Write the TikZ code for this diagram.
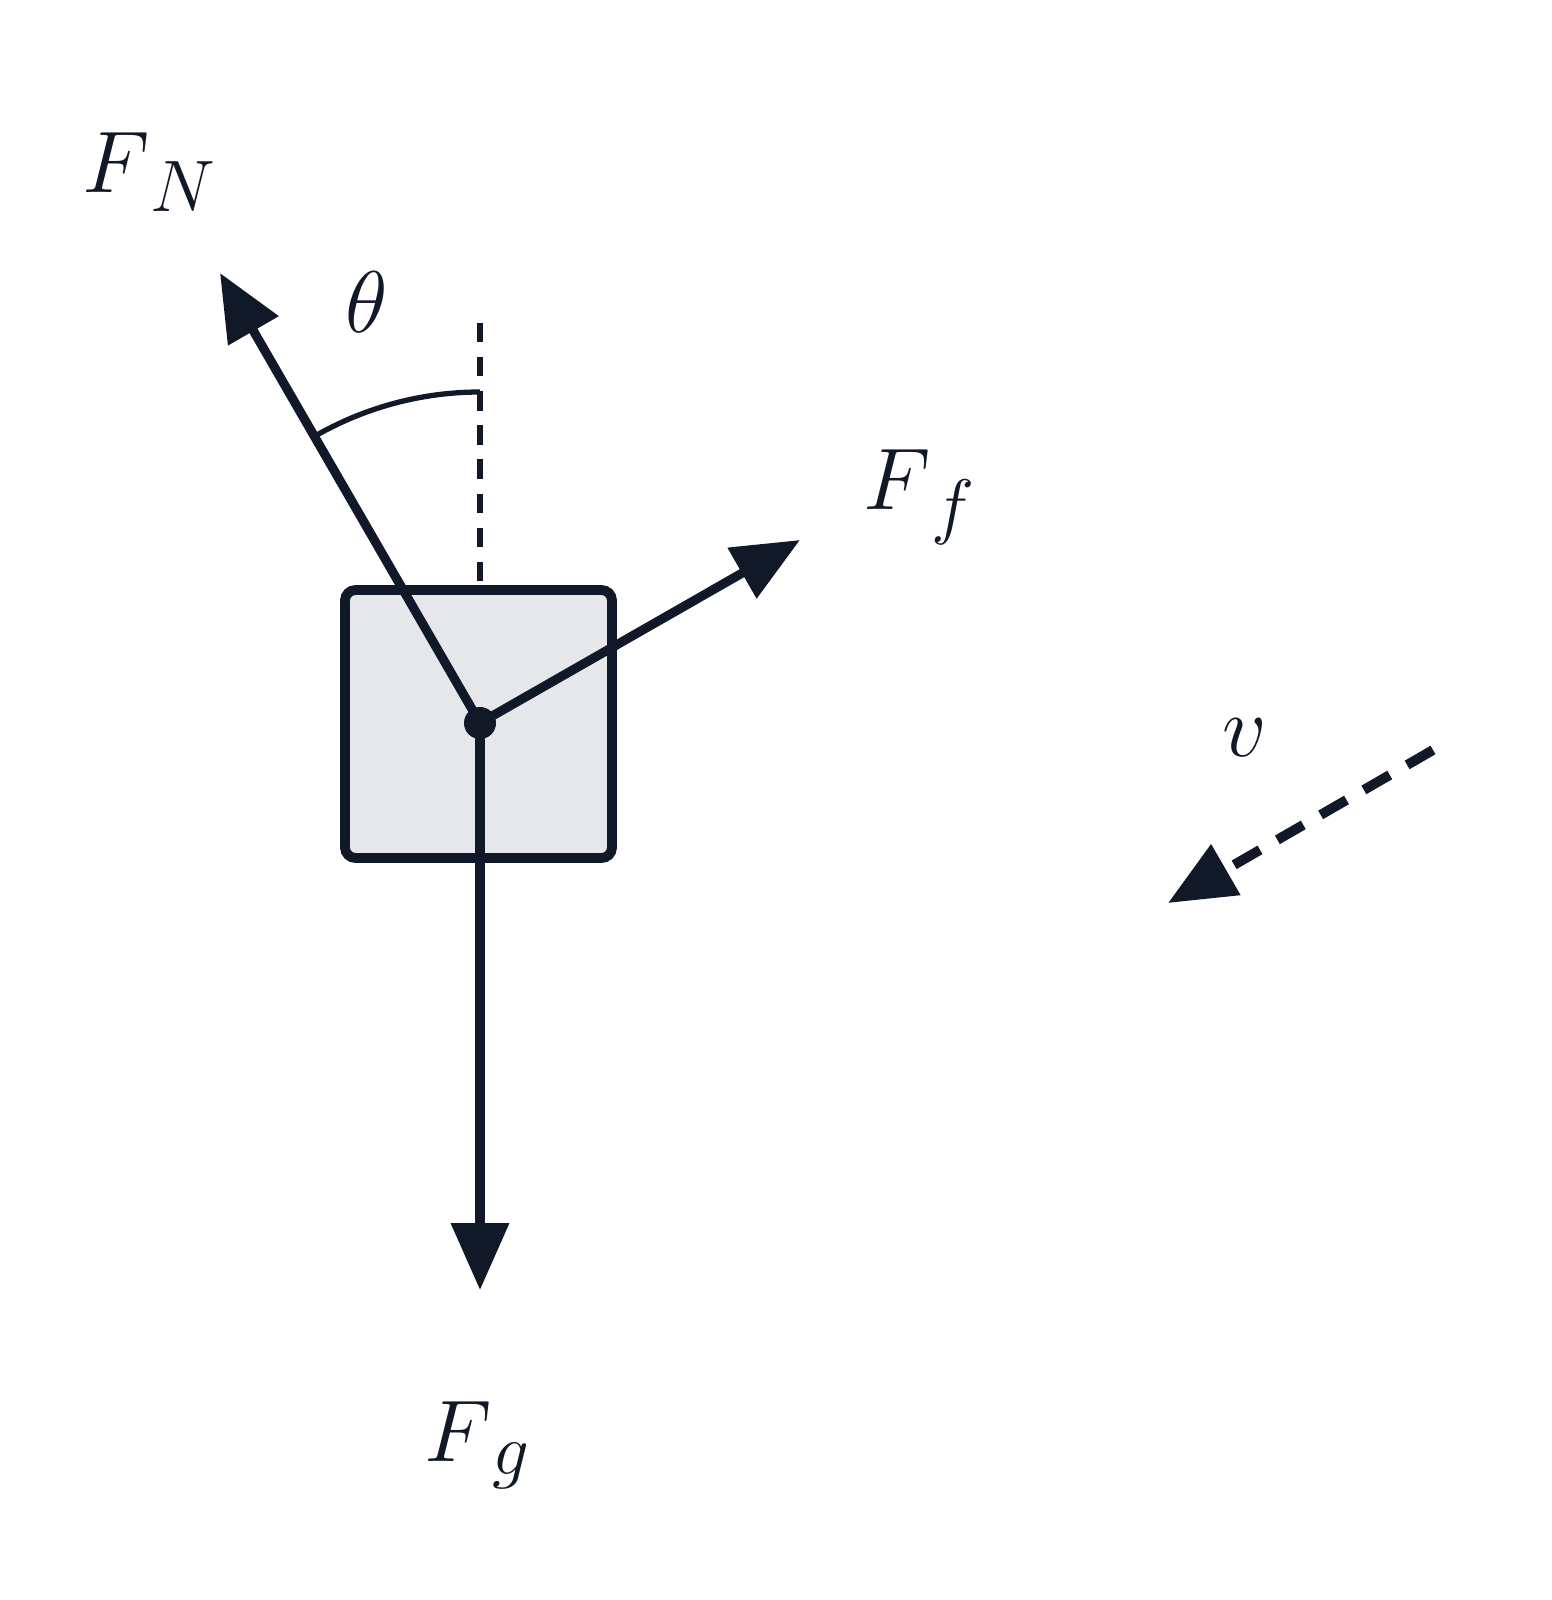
\documentclass[tikz,border=0pt]{standalone}
\usetikzlibrary{arrows.meta}
\definecolor{ink}{HTML}{111827}
\definecolor{boxfill}{HTML}{E5E7EB}
\begin{document}
\begin{tikzpicture}[x=0.01cm,y=-0.01cm,
  force/.style={draw=ink,line width=2.6pt,-{Triangle[length=19pt,width=16pt]}},
  lab/.style={text=ink,font=\fontsize{32}{36}\selectfont}]
\useasboundingbox (0,0) rectangle (1551,1600);
\draw[ink,fill=boxfill,line width=2.8pt,rounded corners=3pt] (345,590) rectangle (612,858);
\coordinate (c) at (480,723);
\coordinate (top) at (480,323);
\coordinate (boxtop) at (480,586);
\coordinate (tn) at (220,273);
\coordinate (tf) at (800,540);
\coordinate (tg) at (480,1290);
\coordinate (vs) at (1433,750);
\coordinate (vt) at (1168,903);
\draw[ink,line width=1.5pt,dash pattern=on 5.5pt off 4.2pt] (top) -- (boxtop);
\draw[ink,line width=1.5pt] (480,392) arc[start angle=-90,end angle=-120,radius=331];
\draw[force] (c) -- (tn);
\draw[force] (c) -- (tf);
\draw[force] (c) -- (tg);
\fill[ink] (c) circle[radius=16];
\draw[force,line width=2.8pt,dash pattern=on 8.5pt off 5.7pt] (vs) -- (vt);
\node[lab] (lN) at (150,172) {$F_{\,N}$};
\node[lab] (lt) at (367,302) {$\theta$};
\node[lab] (lf) at (920,497) {$F_{\,f}$};
\node[lab] (lg) at (478,1445) {$F_{\,g}$};
\node[lab] (lv) at (1245,738) {$v$};
\end{tikzpicture}
\end{document}
